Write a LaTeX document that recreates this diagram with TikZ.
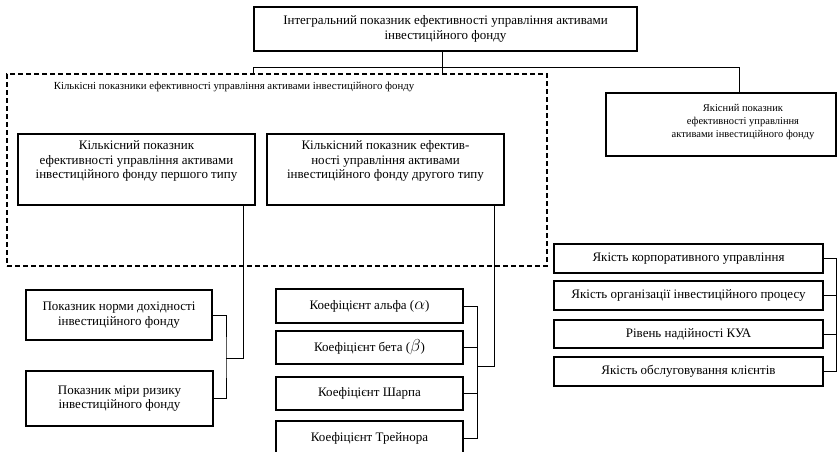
\documentclass[tikz,border=0pt]{standalone}
\usepackage{fontspec}
\setmainfont{Liberation Serif}
\usetikzlibrary{positioning}

% text set higher in its box
\newcommand{\liftlines}[2]{\raisebox{0pt}[\height][\dimexpr\depth+#1\relax]{\begin{tabular}{@{}c@{}}#2\end{tabular}}}
\newcommand{\greekmark}[1]{{\fontsize{16}{16}\selectfont$#1$}}

\begin{document}
\begin{tikzpicture}[x=1pt, y=-1pt,
    box/.style={rectangle, draw, line width=1.1pt, align=center, inner sep=2pt, font=\fontsize{13}{14.5}\selectfont},
    dashbox/.style={rectangle, draw, dash pattern=on 5pt off 3pt, line width=1.4pt},
    link/.style={line width=0.9pt}]
            \useasboundingbox (0, 0) rectangle (838, 451);
            \clip (0, 0) rectangle (838, 451);

            \node[box, minimum width=383, minimum height=44] at (445.5, 29) (top) {Інтегральний показник ефективності управління активами\\інвестиційного фонду};

            \node[dashbox, minimum width=540, minimum height=192] at (277, 170) (quant) {};
            \node[font=\fontsize{10.8}{13}\selectfont] at (234, 87) (quantlbl) {Кількісні показники ефективності управління активами інвестиційного фонду};
            \node[box, minimum width=230, minimum height=63] at (721, 124.5) (qual) {};
            \node[font=\fontsize{10.5}{13}\selectfont, align=center] at (743, 122) (qualtxt) {Якісний показник\\ефективності управління\\активами інвестиційного фонду};

            \node[box, minimum width=237, minimum height=71] at (136.5, 169.5) (kil1) {\liftlines{16pt}{Кількісний показник\\ефективності управління активами\\інвестиційного фонду першого типу}};
            \node[box, minimum width=237, minimum height=71] at (385.5, 169.5) (kil2) {\liftlines{16pt}{Кількісний показник ефектив-\\ності управління активами\\інвестиційного фонду другого типу}};

            \node[box, minimum width=186, minimum height=50] at (119, 315) (norm) {Показник норми дохідності\\інвестиційного фонду};
            \node[box, minimum width=187, minimum height=55] at (119.5, 398.5) (risk) {Показник міри ризику\\інвестиційного фонду};

            \node[box, minimum width=187, minimum height=34] at (369.5, 306) (alpha) {Коефіцієнт альфа (\greekmark{\alpha})};
            \node[box, minimum width=187, minimum height=33] at (369.5, 347.5) (beta) {Коефіцієнт бета (\greekmark{\beta})};
            \node[box, minimum width=187, minimum height=33] at (369.5, 393.5) (sharpe) {Коефіцієнт Шарпа};
            \node[box, minimum width=187, minimum height=34] at (369.5, 438) (treynor) {Коефіцієнт Трейнора};

            \node[box, minimum width=269, minimum height=29] at (688.5, 258.5) (corp) {Якість корпоративного управління};
            \node[box, minimum width=269, minimum height=29] at (688.5, 295.5) (proc) {Якість організації інвестиційного процесу};
            \node[box, minimum width=269, minimum height=28] at (688.5, 334) (kua) {Рівень надійності КУА};
            \node[box, minimum width=269, minimum height=29] at (688.5, 371.5) (serv) {Якість обслуговування клієнтів};

            % top level
            \coordinate (hub) at (442, 67);
            \coordinate (qtap) at (739, 67);
            \draw[link] (top.south -| hub) -- (quant.north -| hub);
            \draw[link] (quant.north -| top.west) |- (qtap) -- (qual.north -| qtap);

            % first type
            \coordinate (ldrop) at (243, 358);
            \coordinate (lbus) at (226, 358);
            \draw[link] (kil1.south -| ldrop) -- (ldrop) -- (lbus);
            \draw[link] (norm.east) -| (lbus) |- (risk.east);

            % second type
            \coordinate (cdrop) at (494, 366);
            \coordinate (cbus) at (477, 366);
            \draw[link] (kil2.south -| cdrop) -- (cdrop) -- (cbus);
            \draw[link] (alpha.east) -| (treynor.east -| cbus) -- (treynor.east);
            \draw[link] (beta.east) -- (beta.east -| cbus);
            \draw[link] (sharpe.east) -- (sharpe.east -| cbus);

            % quality
            \coordinate (rbus) at (836, 0);
            \draw[link] (corp.east) -| (serv.east -| rbus) -- (serv.east);
            \draw[link] (proc.east) -- (proc.east -| rbus);
            \draw[link] (kua.east) -- (kua.east -| rbus);
        \end{tikzpicture}
\end{document}
